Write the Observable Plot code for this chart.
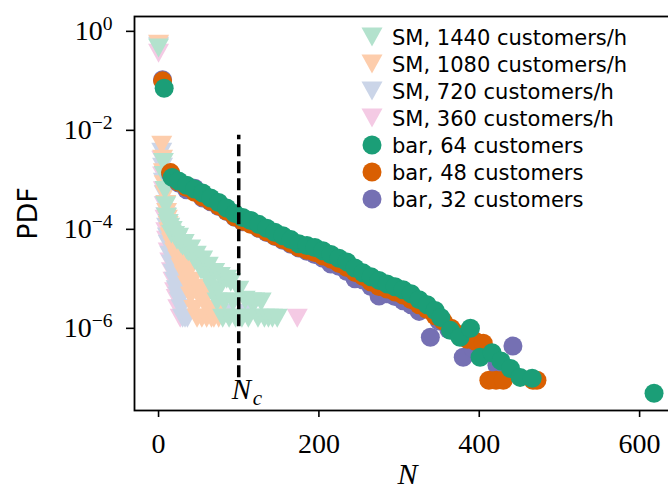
<!DOCTYPE html>
<html><head><meta charset="utf-8">
<script src="https://cdn.jsdelivr.net/npm/d3@7"></script>
<script src="https://cdn.jsdelivr.net/npm/@observablehq/plot@0.6"></script>
<style>
html,body{margin:0;padding:0;background:#fff;overflow:hidden;}
#wrap{position:relative;width:668px;height:489px;overflow:hidden;}
#wrap svg{max-width:none !important;}
#legend{position:absolute;left:0;top:0;pointer-events:none;}
</style></head><body><div id="wrap"></div>
<script>
// ---- data: SM (simulation) histograms, triangles ----
const sm1440N   = [0, 6, 7, 8, 9, 10, 12, 14, 16, 17, 20, 23, 25, 28, 30, 32, 35, 37, 40, 43, 45, 47, 50, 53, 55, 58, 60, 62, 65, 68, 70, 73, 75, 77, 80, 82, 85, 88, 90, 93, 96, 100, 104, 108, 112, 116, 120, 124, 128, 132, 137, 142, 148];
const sm1440Pdf = [0.46, 2.25e-3, 1.23e-3, 6.1e-4, 3.0e-4, 1.75e-4, 1.32e-4, 1.1e-4, 8.0e-5, 9.5e-5, 7.5e-5, 6.0e-5, 6.9e-5, 5.0e-5, 4.6e-5, 5.2e-5, 3.8e-5, 3.5e-5, 4.0e-5, 2.8e-5, 2.4e-5, 3.0e-5, 2.0e-5, 1.5e-5, 2.4e-5, 1.4e-5, 1.1e-5, 1.8e-5, 9.0e-6, 6.0e-6, 1.35e-5, 3.4e-6, 6.0e-6, 1.12e-5, 1.6e-6, 3.4e-6, 9.8e-6, 1.6e-6, 8.5e-6, 3.4e-6, 1.6e-6, 5.9e-6, 1.6e-6, 3.7e-6, 1.6e-6, 3.4e-6, 3.4e-6, 1.6e-6, 3.4e-6, 1.6e-6, 1.6e-6, 1.6e-6, 1.6e-6];

const sm1080N   = [0, 4, 5, 6, 7, 8, 9, 10, 11, 12, 13, 14, 15, 16, 17, 18, 19, 20, 22, 24, 26, 28, 30, 32, 34, 36, 38, 40, 42, 44, 46, 48, 50, 52, 54, 56, 58, 60, 63, 66, 69, 72, 75];
const sm1080Pdf = [0.55, 5.0e-3, 2.6e-3, 1.4e-3, 8e-4, 5e-4, 3.2e-4, 2.2e-4, 1.6e-4, 1.2e-4, 9e-5, 7e-5, 8e-5, 5.5e-5, 6.5e-5, 4.5e-5, 5.5e-5, 3.5e-5, 5.0e-5, 2.5e-5, 3.8e-5, 1.7e-5, 2.8e-5, 1.2e-5, 2.0e-5, 7.5e-6, 1.4e-5, 4.5e-6, 9.0e-6, 2.4e-6, 6.5e-6, 1.6e-6, 4.5e-6, 5.5e-6, 1.6e-6, 3.4e-6, 4.0e-6, 1.6e-6, 2.4e-6, 1.6e-6, 1.6e-6, 2.0e-6, 1.6e-6];

const sm720N    = [0, 4, 5, 6, 7, 8, 9, 10, 11, 12, 14, 16, 18, 20, 22, 24, 26, 28, 30, 33, 36, 85, 112];
const sm720Pdf  = [0.5, 3.6e-3, 1.8e-3, 9e-4, 5e-4, 3e-4, 1.8e-4, 1.1e-4, 7e-5, 5e-5, 3e-5, 2e-5, 1.3e-5, 9e-6, 6e-6, 4.5e-6, 3.5e-6, 2.5e-6, 1.6e-6, 1.6e-6, 1.6e-6, 2e-6, 2e-6];

const sm360N    = [0, 4, 5, 6, 7, 8, 9, 10, 12, 14, 16, 18, 20, 22, 24, 27, 173];
const sm360Pdf  = [0.36, 2.5e-3, 1.2e-3, 6e-4, 3e-4, 1.6e-4, 9e-5, 6e-5, 3.5e-5, 2.2e-5, 1.4e-5, 9e-6, 5.5e-6, 4e-6, 2.5e-6, 1.6e-6, 1.6e-6];

// ---- data: bar histograms, circles ----
const bar64N   = [7, 17, 25, 35, 45, 55, 65, 75, 85, 95, 105, 115, 125, 135, 145, 155, 165, 175, 185, 195, 205, 215, 225, 235, 245, 255, 265, 275, 285, 295, 305, 315, 325, 335, 345, 352, 364, 376, 389, 401, 416, 427, 439, 451, 466, 618];
const bar64Pdf = [0.071, 1.12e-3, 9.5e-4, 7.8e-4, 6.5e-4, 5.4e-4, 4.3e-4, 3.5e-4, 2.7e-4, 2.1e-4, 1.74e-4, 1.51e-4, 1.26e-4, 1.05e-4, 8.7e-5, 7.4e-5, 6.2e-5, 5.1e-5, 4.7e-5, 4.3e-5, 3.7e-5, 3.1e-5, 2.6e-5, 2.2e-5, 1.66e-5, 1.32e-5, 1.10e-5, 9.3e-6, 7.9e-6, 6.9e-6, 6.0e-6, 5.0e-6, 3.8e-6, 3.0e-6, 2.3e-6, 1.66e-6, 9.1e-7, 6.6e-7, 1.0e-6, 2.6e-7, 3.2e-7, 2.2e-7, 1.55e-7, 1.02e-7, 9.8e-8, 4.9e-8];

const bar48N   = [5, 15, 25, 35, 45, 55, 65, 75, 85, 95, 105, 115, 125, 135, 145, 155, 165, 175, 185, 195, 205, 215, 225, 235, 245, 255, 265, 275, 285, 295, 305, 315, 325, 335, 345, 355, 365, 375, 385, 395, 405, 412, 421, 430, 467, 472];
const bar48Pdf = [0.10, 1.40e-3, 9.0e-4, 7.0e-4, 5.6e-4, 4.5e-4, 3.7e-4, 3.0e-4, 2.35e-4, 1.8e-4, 1.45e-4, 1.27e-4, 1.07e-4, 8.9e-5, 7.4e-5, 6.2e-5, 5.2e-5, 4.3e-5, 3.8e-5, 3.4e-5, 2.9e-5, 2.5e-5, 2.05e-5, 1.7e-5, 1.35e-5, 1.12e-5, 8.6e-6, 7.0e-6, 6.2e-6, 5.4e-6, 4.7e-6, 3.8e-6, 3.0e-6, 2.4e-6, 1.8e-6, 1.4e-6, 1.0e-6, 7.5e-7, 6.0e-7, 5.5e-7, 5.0e-7, 8.9e-8, 8.9e-8, 8.9e-8, 8.9e-8, 8.9e-8];

const bar32N   = [5, 15, 25, 35, 45, 55, 65, 75, 85, 95, 105, 115, 125, 135, 145, 155, 165, 175, 185, 195, 205, 215, 225, 235, 245, 255, 265, 275, 285, 295, 305, 315, 325, 339, 350, 362, 380, 392, 422, 442];
const bar32Pdf = [0.105, 1.3e-3, 8.6e-4, 6.3e-4, 6.8e-4, 4.3e-4, 3.6e-4, 2.9e-4, 2.3e-4, 1.75e-4, 1.42e-4, 1.3e-4, 1.05e-4, 8.6e-5, 7.2e-5, 6.0e-5, 5.0e-5, 4.2e-5, 3.6e-5, 3.1e-5, 2.6e-5, 2.0e-5, 1.8e-5, 1.4e-5, 1.0e-5, 9.5e-6, 7.0e-6, 4.5e-6, 5.0e-6, 4.4e-6, 3.6e-6, 3.0e-6, 2.2e-6, 6.6e-7, 1.4e-6, 9.5e-7, 2.6e-7, 4.0e-7, 1.8e-7, 4.4e-7];

// critical N and its marker line extent
const Nc = 100;
const NcRange = [1e-7, 8e-3];

// axis ticks
const xTicks = [0, 200, 400, 600];
const yTicks = [1, 1e-2, 1e-4, 1e-6];

const seriesLabels = ["SM, 1440 customers/h", "SM, 1080 customers/h", "SM, 720 customers/h", "SM, 360 customers/h", "bar, 64 customers", "bar, 48 customers", "bar, 32 customers"];
const seriesColors = ["#b3e2cd", "#fdcdac", "#cbd5e8", "#f4cae4", "#1b9e77", "#d95f02", "#7570b3"];
const seriesShapes = ["tri", "tri", "tri", "tri", "dot", "dot", "dot"];

const toRows = (N, P) => N.map((n, i) => ({N: n, pdf: P[i]}));

const triDown = {
  draw(ctx, size) {
    const r = Math.sqrt(size / Math.PI);
    ctx.moveTo(0, r * 0.9);
    ctx.lineTo(-r, -r * 0.9);
    ctx.lineTo(r, -r * 0.9);
    ctx.closePath();
  }
};

const triMark = (N, P, color) => Plot.dot(toRows(N, P), {x: "N", y: "pdf", symbol: triDown, r: 10.5, fill: color, stroke: "none"});
const dotMark = (N, P, color) => Plot.dot(toRows(N, P), {x: "N", y: "pdf", r: 9.5, fill: color, stroke: "none"});

const serif = "'Liberation Serif', 'DejaVu Serif', serif";
const sans = "'DejaVu Sans', sans-serif";

const chart = Plot.plot({
  width: 690,
  height: 489,
  marginLeft: 134,
  marginRight: 10,
  marginTop: 16,
  marginBottom: 79,
  style: {fontFamily: serif, fontSize: "28px", background: "white", color: "black", maxWidth: "none"},
  x: {domain: [-30, 651]},
  y: {type: "log", domain: [Math.pow(10, -7.66), Math.pow(10, 0.30)]},
  marks: [
    triMark(sm360N, sm360Pdf, seriesColors[3]),
    triMark(sm720N, sm720Pdf, seriesColors[2]),
    triMark(sm1080N, sm1080Pdf, seriesColors[1]),
    triMark(sm1440N, sm1440Pdf, seriesColors[0]),
    dotMark(bar32N, bar32Pdf, seriesColors[6]),
    dotMark(bar48N, bar48Pdf, seriesColors[5]),
    dotMark(bar64N, bar64Pdf, seriesColors[4]),
    Plot.ruleX([Nc], {x: d => d, y1: NcRange[0], y2: NcRange[1], stroke: "black", strokeWidth: 3.5, strokeDasharray: "12,5"}),
    Plot.text([Nc], {x: d => d, frameAnchor: "bottom", text: () => "N", textAnchor: "start", lineAnchor: "middle", dx: -7, dy: -21, fontSize: 29, fontStyle: "italic", fontFamily: serif}),
    Plot.text([Nc], {x: d => d, frameAnchor: "bottom", text: () => "c", textAnchor: "start", lineAnchor: "middle", dx: 14, dy: -12, fontSize: 21, fontStyle: "italic", fontFamily: serif}),
    Plot.frame({stroke: "black", strokeWidth: 1.8}),
    Plot.axisX({ticks: xTicks, tickSize: 7, tickPadding: 16, strokeWidth: 1.6, label: null, tickFormat: d => String(d), fontSize: 28}),
    Plot.axisY({ticks: yTicks, tickSize: 8, tickPadding: 14, strokeWidth: 1.6, label: null, tickFormat: d => String(Math.round(Math.log10(d))).replace("-", "\u2212"), fontSize: 28}),
    Plot.text(["N"], {frameAnchor: "bottom", textAnchor: "middle", lineAnchor: "middle", dy: 64, fontSize: 30, fontStyle: "italic", fontFamily: serif}),
    Plot.text(["PDF"], {frameAnchor: "left", textAnchor: "middle", lineAnchor: "middle", rotate: -90, dx: -106, fontSize: 27, fontFamily: sans})
  ]
});

// superscript exponents on y tick labels
const NS = "http://www.w3.org/2000/svg";
chart.querySelectorAll('[aria-label="y-axis tick label"] text').forEach(t => {
  const e = t.textContent;
  t.textContent = "10";
  const ts = document.createElementNS(NS, "tspan");
  ts.setAttribute("dy", "-0.55em");
  ts.setAttribute("font-size", "0.7em");
  ts.textContent = e;
  t.appendChild(ts);
});

const wrap = document.getElementById("wrap");
chart.style.maxWidth = "none";
wrap.appendChild(chart);

// legend (inside the axes, upper right)
const leg = d3.select(wrap).append("svg").attr("id", "legend").attr("width", 668).attr("height", 489);
const row0 = 37, rowStep = 27, mx = 372, tx = 392;
seriesLabels.forEach((lab, i) => {
  const cy = row0 + i * rowStep;
  if (seriesShapes[i] === "tri") {
    leg.append("path").attr("d", `M${mx},${cy + 9.5} L${mx - 10.5},${cy - 9.5} L${mx + 10.5},${cy - 9.5} Z`).attr("fill", seriesColors[i]);
  } else {
    leg.append("circle").attr("cx", mx).attr("cy", cy).attr("r", 9.5).attr("fill", seriesColors[i]);
  }
  leg.append("text").attr("x", tx).attr("y", cy).attr("dy", "0.36em").attr("font-family", sans).attr("font-size", 21).attr("fill", "black").text(lab);
});
</script></body></html>
